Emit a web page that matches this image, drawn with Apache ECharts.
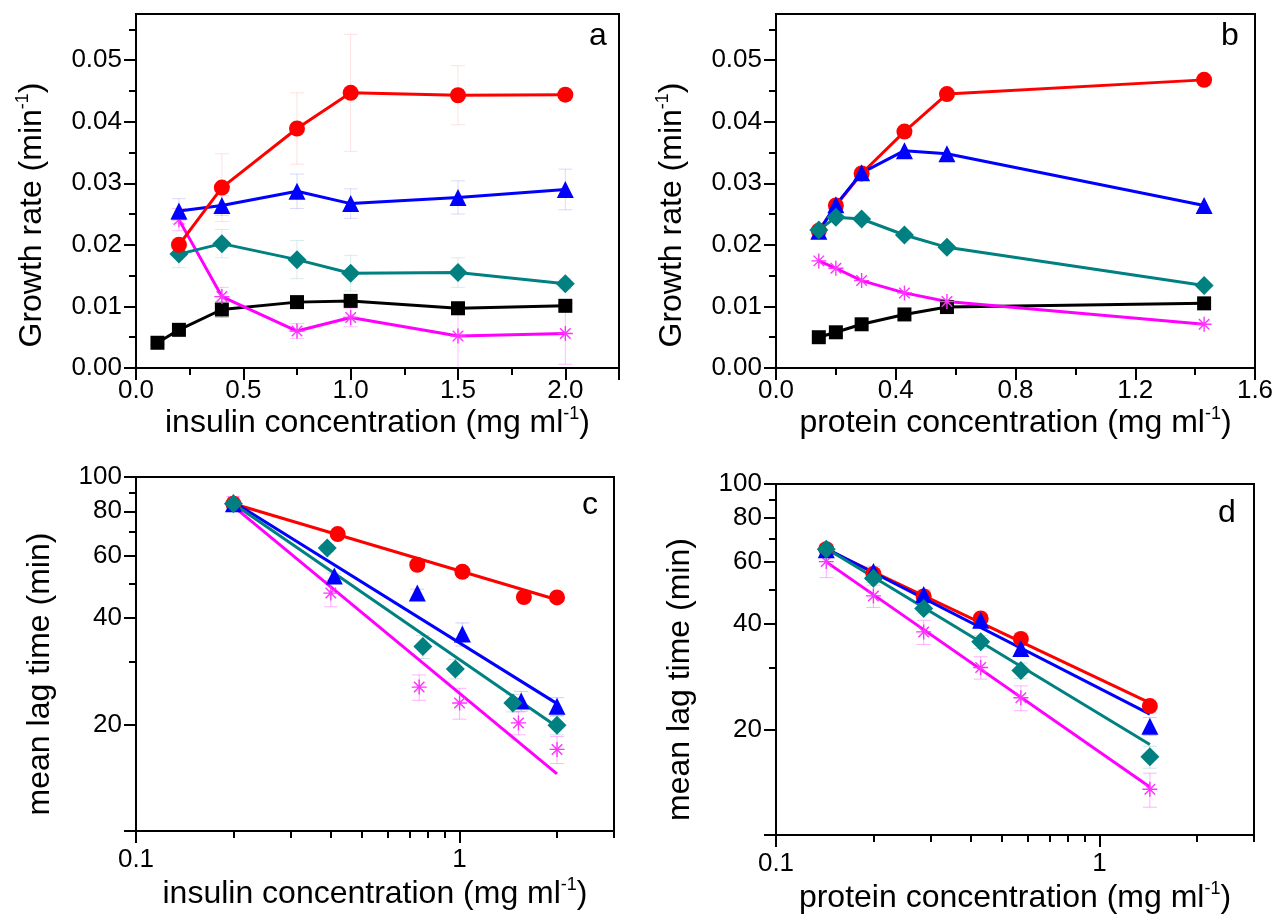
<!DOCTYPE html>
<html>
<head>
<meta charset="utf-8">
<title>growth rate and lag time</title>
<script src="https://cdn.jsdelivr.net/npm/echarts@6/dist/echarts.min.js"></script>
<style>
    html, body { margin: 0; padding: 0; background: #fff; }
    #main { width: 1277px; height: 915px; }
</style>
</head>
<body>
<div id="main"></div>
<script>
// ---- panel a : growth rate vs insulin concentration ----
var insulinX = [0.2, 0.4, 0.75, 1.0, 1.5, 2.0];
var insulinXBlack = [0.1, 0.2, 0.4, 0.75, 1.0, 1.5, 2.0];
var rateA_red = [0.0200, 0.0293, 0.0389, 0.0447, 0.0443, 0.0444];
var rateA_blue = [0.0255, 0.0264, 0.0287, 0.0267, 0.0277, 0.0290];
var rateA_teal = [0.0185, 0.0202, 0.0176, 0.0154, 0.0155, 0.0137];
var rateA_pink = [0.0241, 0.0116, 0.0060, 0.0082, 0.0052, 0.0056];
var rateA_black = [0.0041, 0.0062, 0.0095, 0.0107, 0.0109, 0.0097, 0.0101];
var errA_red = [0.0010, 0.0055, 0.0058, 0.0095, 0.0048, 0.0010];
var errA_blue = [0.0020, 0.0016, 0.0028, 0.0024, 0.0027, 0.0033];
var errA_teal = [0.0022, 0.0023, 0.0031, 0.0029, 0.0024, 0.0008];
var errA_pink = [0.0018, 0.0015, 0.0012, 0.0015, 0.0056, 0.0050];
var errA_black = [0.0003, 0.0005, 0.0013, 0.0005, 0.0004, 0.0005, 0.0004];

// ---- panel b : growth rate vs protein concentration ----
var proteinX = [0.143, 0.2, 0.286, 0.429, 0.571, 1.43];
var rateB_red = [0.0223, 0.0264, 0.0316, 0.0384, 0.0445, 0.0468];
var rateB_blue = [0.0222, 0.0265, 0.0317, 0.0353, 0.0348, 0.0264];
var rateB_teal = [0.0224, 0.0245, 0.0242, 0.0216, 0.0196, 0.0134];
var rateB_pink = [0.0174, 0.0162, 0.0142, 0.0122, 0.0108, 0.0071];
var rateB_black = [0.0050, 0.0058, 0.0071, 0.0087, 0.0099, 0.0105];

// ---- panel c : lag time vs insulin concentration (log-log) ----
var lagC_redX = [0.2, 0.42, 0.74, 1.02, 1.58, 2.0];
var lagC_red = [84, 69, 56.5, 54, 45.8, 45.7];
var lagC_blueX = [0.2, 0.41, 0.74, 1.02, 1.55, 2.0];
var lagC_blue = [84, 52.5, 47, 36, 23.3, 22.5];
var lagC_tealX = [0.2, 0.39, 0.77, 0.97, 1.46, 2.0];
var lagC_teal = [84, 63, 33.2, 28.7, 23.0, 19.9];
var lagC_pinkX = [0.2, 0.4, 0.75, 1.0, 1.52, 2.0];
var lagC_pink = [85, 47, 25.5, 23.0, 20.2, 17.0];
var errC_red = [1, 1, 1, 1, 0.8, 0.8];
var errC_blue = [1, 1, 1.2, 2.7, 1.5, 1.3];
var errC_teal = [1, 1.5, 2.5, 1.8, 1.3, 1.2];
var errC_pink = [3, 4, 2.1, 2.3, 1.5, 1.5];
var fitC_x = [0.2, 2.0];
var fitC_red = [84, 45];
var fitC_blue = [85, 22.9];
var fitC_teal = [84, 19.7];
var fitC_pink = [82.6, 14.5];

// ---- panel d : lag time vs protein concentration (log-log) ----
var lagD_red = [65.2, 55.4, 47.8, 41.4, 36.2, 23.3];
var lagD_blue = [65, 56.3, 48.4, 40.9, 34.0, 20.4];
var lagD_teal = [65.2, 53.9, 44.2, 35.5, 29.4, 16.7];
var lagD_pink = [60.1, 48.0, 37.9, 30.0, 24.6, 13.5];
var errD_red = [2, 1.5, 1.5, 2, 1.5, 1];
var errD_blue = [2, 2, 1.5, 1.5, 1.5, 1.2];
var errD_teal = [2, 1.5, 1.5, 1.5, 1.5, 1.2];
var errD_pink = [6, 3.5, 3, 2.2, 2, 1.5];
var fitD_x = [0.143, 1.43];
var fitD_red = [65, 23.8];
var fitD_blue = [65.5, 22.1];
var fitD_teal = [65.5, 18.1];
var fitD_pink = [60, 13.7];

// tick labels
var rateTicks = [0, 0.01, 0.02, 0.03, 0.04, 0.05];
var insulinTicks = [0, 0.5, 1.0, 1.5, 2.0];
var concLogTicks = [0.1, 1];
var concLogMinor = [0.2, 0.3, 0.4, 0.5, 0.6, 0.7, 0.8, 0.9, 2, 3];
var lagTicks = [10, 20, 40, 60, 80, 100];
var lagLabels = [20, 40, 60, 80, 100];
var lagMinor = [30, 50, 70, 90];

var FONT = '"Liberation Sans", Arial, sans-serif';
var RED = '#ff0000', BLUE = '#0000ff', TEAL = '#008080', PINK = '#ff00ff', BLACK = '#000000';
var STAR = 'path://M10,0L10,20M0,10L20,10M3,3L17,17M3,17L17,3';

var chart = echarts.init(document.getElementById('main'));

var nameRich = {
    t: {fontSize: 32, fontFamily: FONT, color: '#000', lineHeight: 36},
    s: {fontSize: 18, fontFamily: FONT, color: '#000', lineHeight: 18, verticalAlign: 'top'}
};

function pairs(xs, ys) {
    return xs.map(function (x, i) { return [x, ys[i]]; });
}

function log10List(list) {
    return list.map(function (v) { return Math.log10(v); });
}

function powLabel(v) {
    return String(parseFloat(Math.pow(10, v).toPrecision(4)));
}

// line + markers
function dataLine(xs, ys, color, symbol, size, xi, yi, noLine) {
    var s = {
        type: noLine ? 'scatter' : 'line',
        xAxisIndex: xi, yAxisIndex: yi,
        data: pairs(xs, ys),
        symbol: symbol, symbolSize: size,
        itemStyle: {color: color, opacity: 1},
        z: 4
    };
    if (!noLine) {
        s.lineStyle = {color: color, width: 3};
        s.showAllSymbol = true;
    }
    if (symbol === STAR) {
        s.itemStyle = {color: 'none', borderColor: '#ff33ff', borderWidth: 1.4, opacity: 1};
    }
    return s;
}

function fitLine(xs, ys, color, xi, yi) {
    return {
        type: 'line', xAxisIndex: xi, yAxisIndex: yi,
        data: pairs(xs, ys), symbol: 'none',
        lineStyle: {color: color, width: 3}, z: 3
    };
}

function errorBars(xs, ys, errs, color, xi, yi) {
    var data = xs.map(function (x, i) { return [x, ys[i] - errs[i], ys[i] + errs[i]]; });
    return {
        type: 'custom', xAxisIndex: xi, yAxisIndex: yi, data: data, z: 1, silent: true,
        clip: true,
        encode: {x: 0, y: [1, 2]},
        renderItem: function (params, api) {
            var lo = api.coord([api.value(0), api.value(1)]);
            var hi = api.coord([api.value(0), api.value(2)]);
            var w = 7;
            var st = {stroke: color, lineWidth: 1, fill: 'none'};
            return {type: 'group', children: [
                {type: 'line', shape: {x1: lo[0], y1: lo[1], x2: hi[0], y2: hi[1]}, style: st},
                {type: 'line', shape: {x1: lo[0] - w, y1: lo[1], x2: lo[0] + w, y2: lo[1]}, style: st},
                {type: 'line', shape: {x1: hi[0] - w, y1: hi[1], x2: hi[0] + w, y2: hi[1]}, style: st}
            ]};
        }
    };
}

var axisLineStyle = {show: true, onZero: false, lineStyle: {color: '#000', width: 2}};
var noAxisLine = {show: false, onZero: false};
var labelStyle = {color: '#000', fontSize: 26, fontFamily: FONT};

function rateAxis(gi) {
    return {
        type: 'value', gridIndex: gi, min: 0, max: 0.0575, interval: 0.01,
        axisLine: axisLineStyle,
        axisTick: {customValues: rateTicks, length: 12, lineStyle: {color: '#000', width: 2}},
        minorTick: {show: true, splitNumber: 2, length: 7, lineStyle: {color: '#000', width: 2}},
        axisLabel: Object.assign({customValues: rateTicks, margin: 14, formatter: function (v) { return v.toFixed(2); }}, labelStyle),
        splitLine: {show: false},
        name: '{t|Growth rate (min}{s|-1}{t|)}',
        nameLocation: 'middle', nameGap: 86,
        nameTextStyle: {padding: [0, 48, 0, 0], rich: nameRich}
    };
}

// log axes: data on a hidden log axis, ticks/labels on a value axis in log10 units
function logDataAxis(gi, min, max) {
    return {type: 'log', logBase: 10, gridIndex: gi, min: min, max: max, show: false};
}

function logTickX(gi, name, gap) {
    return {
        type: 'value', gridIndex: gi, position: 'bottom',
        min: Math.log10(0.1), max: Math.log10(3),
        axisLine: axisLineStyle,
        axisTick: {customValues: log10List(concLogTicks), length: 12, lineStyle: {color: '#000', width: 2}},
        axisLabel: Object.assign({customValues: log10List(concLogTicks), margin: 16, formatter: powLabel}, labelStyle),
        splitLine: {show: false},
        name: name, nameLocation: 'middle', nameGap: gap,
        nameTextStyle: {rich: nameRich}
    };
}

function logMinorX(gi) {
    return {
        type: 'value', gridIndex: gi, position: 'bottom',
        min: Math.log10(0.1), max: Math.log10(3),
        axisLine: noAxisLine,
        axisTick: {customValues: log10List(concLogMinor), length: 7, lineStyle: {color: '#000', width: 2}},
        axisLabel: {show: false}, splitLine: {show: false}
    };
}

function logTickY(gi, pad) {
    return {
        type: 'value', gridIndex: gi, position: 'left',
        min: 1, max: 2,
        axisLine: axisLineStyle,
        axisTick: {customValues: log10List(lagTicks), length: 12, lineStyle: {color: '#000', width: 2}},
        axisLabel: Object.assign({customValues: log10List(lagLabels), margin: 14, formatter: powLabel}, labelStyle),
        splitLine: {show: false},
        name: 'mean lag time (min)', nameLocation: 'middle', nameGap: 80,
        nameTextStyle: {padding: [0, pad, 0, 0], fontSize: 32, fontFamily: FONT, color: '#000'}
    };
}

function logMinorY(gi) {
    return {
        type: 'value', gridIndex: gi, position: 'left',
        min: 1, max: 2,
        axisLine: noAxisLine,
        axisTick: {customValues: log10List(lagMinor), length: 7, lineStyle: {color: '#000', width: 2}},
        axisLabel: {show: false}, splitLine: {show: false}
    };
}

var gridBox = {show: true, borderColor: '#000', borderWidth: 2, containLabel: false};

var option = {
    animation: false,
    backgroundColor: '#fff',
    grid: [
        Object.assign({left: 136, top: 14, width: 483, height: 354}, gridBox),
        Object.assign({left: 776, top: 14, width: 479, height: 354}, gridBox),
        Object.assign({left: 136, top: 477, width: 478, height: 354}, gridBox),
        Object.assign({left: 776, top: 484, width: 478, height: 354}, gridBox)
    ],
    xAxis: [
        {
            type: 'value', gridIndex: 0, min: 0, max: 2.25, interval: 0.5,
            axisLine: axisLineStyle,
            axisTick: {length: 12, lineStyle: {color: '#000', width: 2}},
            minorTick: {show: true, splitNumber: 2, length: 7, lineStyle: {color: '#000', width: 2}},
            axisLabel: Object.assign({customValues: insulinTicks, margin: 10, formatter: function (v) { return v.toFixed(1); }}, labelStyle),
            splitLine: {show: false},
            name: '{t|insulin concentration (mg ml}{s|-1}{t|)}',
            nameLocation: 'middle', nameGap: 28, nameTextStyle: {rich: nameRich}
        },
        {
            type: 'value', gridIndex: 1, min: 0, max: 1.6, interval: 0.4,
            axisLine: axisLineStyle,
            axisTick: {length: 12, lineStyle: {color: '#000', width: 2}},
            minorTick: {show: true, splitNumber: 2, length: 7, lineStyle: {color: '#000', width: 2}},
            axisLabel: Object.assign({margin: 10, formatter: function (v) { return v.toFixed(1); }}, labelStyle),
            splitLine: {show: false},
            name: '{t|protein concentration (mg ml}{s|-1}{t|)}',
            nameLocation: 'middle', nameGap: 28, nameTextStyle: {rich: nameRich}
        },
        logDataAxis(2, 0.1, 3),
        logTickX(2, '{t|insulin concentration (mg ml}{s|-1}{t|)}', 45),
        logMinorX(2),
        logDataAxis(3, 0.1, 3),
        logTickX(3, '{t|protein concentration (mg ml}{s|-1}{t|)}', 45),
        logMinorX(3)
    ],
    yAxis: [
        rateAxis(0),
        rateAxis(1),
        logDataAxis(2, 10, 100),
        logTickY(2, 40),
        logMinorY(2),
        logDataAxis(3, 10, 100),
        logTickY(3, 40),
        logMinorY(3)
    ],
    graphic: [
        {type: 'text', left: 589, top: 20, style: {text: 'a', font: '32px ' + FONT, fill: '#000'}},
        {type: 'text', left: 1221, top: 20, style: {text: 'b', font: '32px ' + FONT, fill: '#000'}},
        {type: 'text', left: 582, top: 489, style: {text: 'c', font: '32px ' + FONT, fill: '#000'}},
        {type: 'text', left: 1218, top: 497, style: {text: 'd', font: '32px ' + FONT, fill: '#000'}}
    ],
    series: [
        // panel a
        errorBars(insulinX, rateA_red, errA_red, 'rgba(255,0,0,0.12)', 0, 0),
        errorBars(insulinX, rateA_blue, errA_blue, 'rgba(0,0,255,0.15)', 0, 0),
        errorBars(insulinX, rateA_teal, errA_teal, 'rgba(0,128,128,0.15)', 0, 0),
        errorBars(insulinX, rateA_pink, errA_pink, 'rgba(255,0,255,0.25)', 0, 0),
        errorBars(insulinXBlack, rateA_black, errA_black, 'rgba(0,0,0,0.2)', 0, 0),
        dataLine(insulinXBlack, rateA_black, BLACK, 'rect', 14, 0, 0),
        dataLine(insulinX, rateA_pink, PINK, STAR, 15, 0, 0),
        dataLine(insulinX, rateA_teal, TEAL, 'diamond', 19, 0, 0),
        dataLine(insulinX, rateA_blue, BLUE, 'triangle', 17, 0, 0),
        dataLine(insulinX, rateA_red, RED, 'circle', 16, 0, 0),
        // panel b
        dataLine(proteinX, rateB_black, BLACK, 'rect', 14, 1, 1),
        dataLine(proteinX, rateB_pink, PINK, STAR, 15, 1, 1),
        dataLine(proteinX, rateB_red, RED, 'circle', 16, 1, 1),
        dataLine(proteinX, rateB_blue, BLUE, 'triangle', 17, 1, 1),
        dataLine(proteinX, rateB_teal, TEAL, 'diamond', 19, 1, 1),
        // panel c
        errorBars(lagC_redX, lagC_red, errC_red, 'rgba(255,0,0,0.15)', 2, 2),
        errorBars(lagC_blueX, lagC_blue, errC_blue, 'rgba(0,0,255,0.2)', 2, 2),
        errorBars(lagC_tealX, lagC_teal, errC_teal, 'rgba(0,128,128,0.2)', 2, 2),
        errorBars(lagC_pinkX, lagC_pink, errC_pink, 'rgba(255,0,255,0.3)', 2, 2),
        fitLine(fitC_x, fitC_red, RED, 2, 2),
        fitLine(fitC_x, fitC_blue, BLUE, 2, 2),
        fitLine(fitC_x, fitC_teal, TEAL, 2, 2),
        fitLine(fitC_x, fitC_pink, PINK, 2, 2),
        dataLine(lagC_pinkX, lagC_pink, PINK, STAR, 15, 2, 2, true),
        dataLine(lagC_redX, lagC_red, RED, 'circle', 16, 2, 2, true),
        dataLine(lagC_blueX, lagC_blue, BLUE, 'triangle', 17, 2, 2, true),
        dataLine(lagC_tealX, lagC_teal, TEAL, 'diamond', 19, 2, 2, true),
        // panel d
        errorBars(proteinX, lagD_red, errD_red, 'rgba(255,0,0,0.15)', 5, 5),
        errorBars(proteinX, lagD_blue, errD_blue, 'rgba(0,0,255,0.2)', 5, 5),
        errorBars(proteinX, lagD_teal, errD_teal, 'rgba(0,128,128,0.2)', 5, 5),
        errorBars(proteinX, lagD_pink, errD_pink, 'rgba(255,0,255,0.3)', 5, 5),
        fitLine(fitD_x, fitD_red, RED, 5, 5),
        fitLine(fitD_x, fitD_blue, BLUE, 5, 5),
        fitLine(fitD_x, fitD_teal, TEAL, 5, 5),
        fitLine(fitD_x, fitD_pink, PINK, 5, 5),
        dataLine(proteinX, lagD_pink, PINK, STAR, 15, 5, 5, true),
        dataLine(proteinX, lagD_red, RED, 'circle', 16, 5, 5, true),
        dataLine(proteinX, lagD_blue, BLUE, 'triangle', 17, 5, 5, true),
        dataLine(proteinX, lagD_teal, TEAL, 'diamond', 19, 5, 5, true)
    ]
};

chart.setOption(option);
</script>
</body>
</html>
